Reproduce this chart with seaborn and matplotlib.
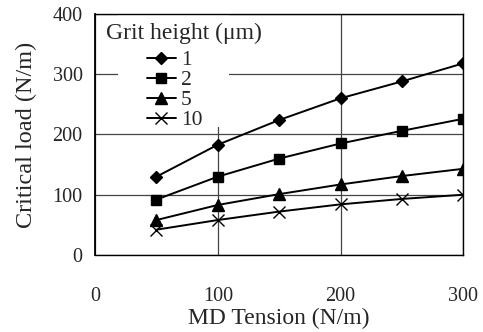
#!/usr/bin/env python3
"""Critical load vs MD tension for several grit heights."""

import pandas as pd
import matplotlib
matplotlib.use("Agg")
import matplotlib.pyplot as plt
from matplotlib.patches import Rectangle
import seaborn as sns

# Data
md_tension = [50, 100, 150, 200, 250, 300]
grit_heights = ["1", "2", "5", "10"]
load_1 = [130, 183, 224, 260, 288, 318]
load_2 = [92, 130, 160, 185, 206, 226]
load_5 = [58, 83, 101, 117, 131, 143]
load_10 = [42, 58, 72, 84, 93, 100]

x_ticks = [0, 100, 200, 300]
y_ticks = [0, 100, 200, 300, 400]


def build_frame():
    """Long-form table for seaborn."""
    rows = []
    for g, vals in zip(grit_heights, [load_1, load_2, load_5, load_10]):
        for t, v in zip(md_tension, vals):
            rows.append({"tension": t, "load": v, "grit": g})
    return pd.DataFrame(rows)


def main():
    sns.set_style("white")
    plt.rcParams["font.family"] = ["Liberation Serif", "DejaVu Serif"]

    df = build_frame()
    fig = plt.figure(figsize=(4.83, 3.32), dpi=100)
    ax = fig.add_axes([0.197, 0.232, 0.762, 0.726])
    ax.set_axisbelow(True)

    markers = {"1": "D", "2": "s", "5": "^", "10": "x"}
    sizes = {"1": 6, "2": 7.5, "5": 8, "10": 8.5}
    for g in grit_heights:
        sub = df[df["grit"] == g]
        sns.lineplot(data=sub, x="tension", y="load", ax=ax, color="black",
                     lw=1.4, marker=markers[g], markersize=sizes[g],
                     markeredgecolor="black", markerfacecolor="black",
                     markeredgewidth=1.0, label=g, zorder=3)

    ax.set_xlim(0, 300)
    ax.set_ylim(0, 400)
    ax.set_xticks(x_ticks)
    ax.set_yticks(y_ticks)
    ax.grid(True, color="#444444", lw=0.9)
    for s in ["top", "right", "left", "bottom"]:
        ax.spines[s].set_color("black")
        ax.spines[s].set_linewidth(1.0)
    ax.spines["left"].set_linewidth(1.3)
    ax.tick_params(axis="both", direction="out", length=6, width=1,
                   color="black", labelsize=14.5)
    ax.tick_params(axis="x", pad=17)
    ax.tick_params(axis="y", pad=3)

    ax.set_xlabel("MD Tension (N/m)", fontsize=17, labelpad=1.5)
    ax.set_ylabel("Critical load (N/m)", fontsize=17.5, labelpad=11)

    # white box behind the legend hides the grid lines there
    ax.add_patch(Rectangle((0.0625, 0.53), 0.30, 0.47, transform=ax.transAxes,
                           facecolor="white", edgecolor="none", zorder=1))
    ax.text(0.03, 0.921, "Grit height (\u03bcm)", transform=ax.transAxes,
            fontsize=17, ha="left", va="center", zorder=4)

    leg = ax.legend(loc="upper left", bbox_to_anchor=(0.14, 0.85),
                    fontsize=15.5, frameon=False, handlelength=1.35,
                    labelspacing=0.0, handletextpad=0.25,
                    borderpad=0.0, borderaxespad=0.0)
    leg.set_zorder(5)

    fig.savefig("out.png", dpi=100)


if __name__ == "__main__":
    main()
